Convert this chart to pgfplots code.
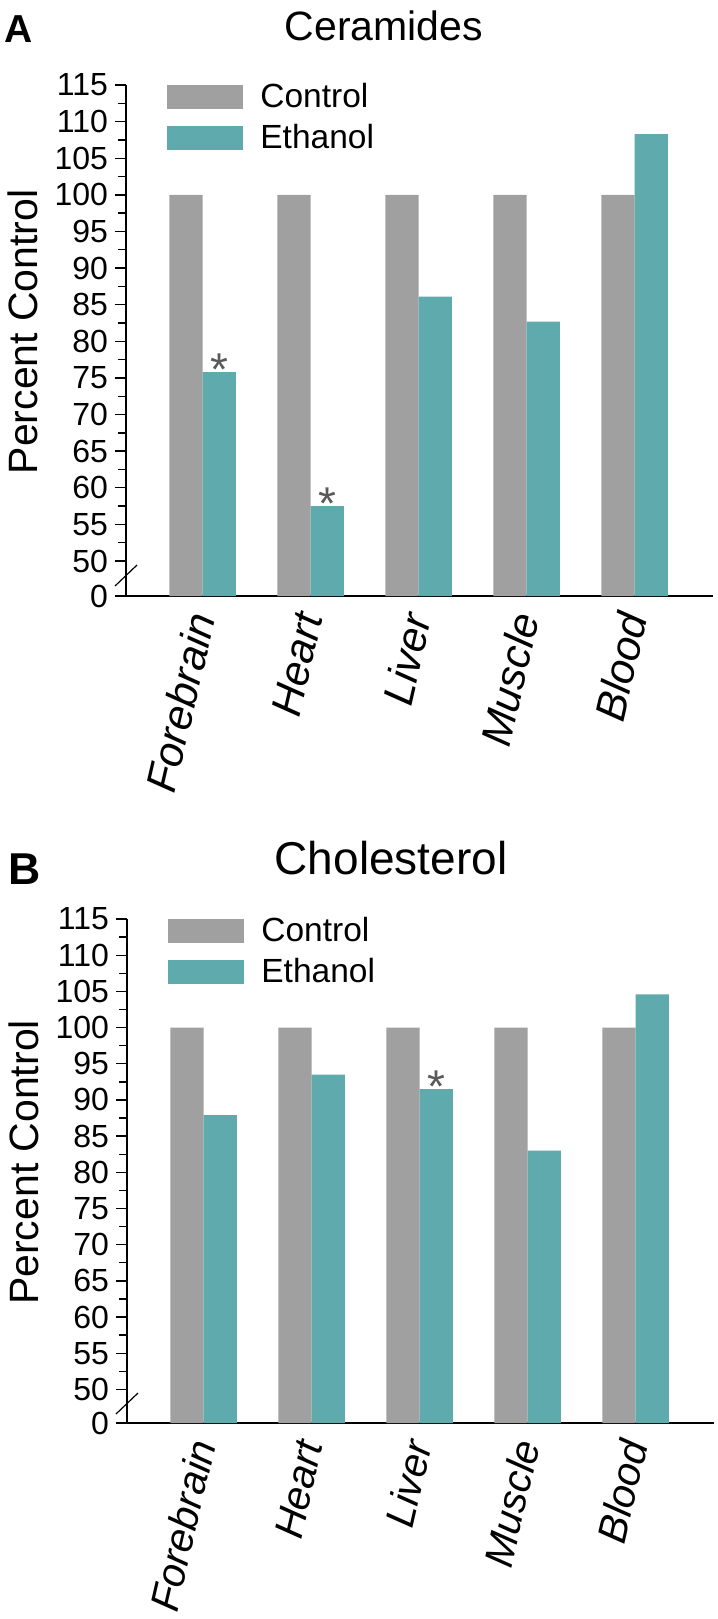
\documentclass[border=0pt]{standalone}
\usepackage{pgfplots}
\pgfplotsset{compat=1.18}
\usepackage{fontspec}
\setmainfont{Liberation Sans}
\definecolor{ctrl}{RGB}{160,160,160}
\definecolor{eth}{RGB}{94,170,172}
\definecolor{starc}{RGB}{90,90,90}

\pgfplotsset{
  panel/.style={
    scale only axis, width=293.5pt,
    xmin=-0.709, xmax=4.726, ymax=115,
    axis x line*=bottom, axis y line*=left,
    axis line style={line width=0.9pt, -},
    ybar, bar width=0.308,
    xtick={0,1,2,3,4},
    xticklabels={Forebrain,Heart,Liver,Muscle,Blood},
    x tick style={draw=none},
    xticklabel style={rotate=77, anchor=east, font=\fontsize{21.3}{21.3}\selectfont\itshape},
    minor ytick={52.5,57.5,62.5,67.5,72.5,77.5,82.5,87.5,92.5,97.5,102.5,107.5,112.5},
    tick align=outside,
    major tick length=5.5pt, minor tick length=4pt,
    y tick style={black, line width=0.7pt},
    yticklabel style={font=\fontsize{16}{16}\selectfont, xshift=0pt},
    /pgf/number format/assume math mode=true,
    ylabel={Percent Control},
    ylabel style={at={(axis description cs:-0.1516,0.517)}, anchor=base, font=\fontsize{20.5}{20.5}\selectfont},
    legend style={at={(axis description cs:0,1)}, anchor=north west, xshift=20.5pt, yshift=2pt,
      draw=none, fill=none, inner sep=0pt, outer sep=0pt, row sep=5pt,
      font=\fontsize{16.75}{16.75}\selectfont, nodes={inner ysep=1pt, inner xsep=8.7pt}},
    legend cell align=left,
    legend image code/.code={\fill[##1] (0pt,-6pt) rectangle (38pt,6pt);},
  },
  starplot/.style={ybar, bar shift=0.154, draw=none, fill=none, forget plot,
    nodes near coords, point meta=explicit symbolic,
    every node near coord/.append style={anchor=base, yshift=-6.7pt, font=\fontsize{23}{23}\selectfont, text=starc, inner sep=0pt}},
}

\begin{document}
\begin{tikzpicture}
\path[use as bounding box] (0,0) rectangle (359pt,-809.5pt);

% Panel A
\node[font=\fontsize{19.5}{19.5}\selectfont\bfseries] at (9.5pt,-14.5pt) {A};
\node[font=\fontsize{20.5}{20.5}\selectfont] at (192pt,-12.75pt) {Ceramides};
\begin{axis}[panel, name=A, at={(63pt,-298pt)}, anchor=south west, height=255.5pt,
  ymin=45.22,
  ytick={45.22,50,55,60,65,70,75,80,85,90,95,100,105,110,115},
  yticklabels={0,50,55,60,65,70,75,80,85,90,95,100,105,110,115}]
\addplot[fill=ctrl, draw=none, bar shift=-0.154] coordinates {(0,100) (1,100) (2,100) (3,100) (4,100)};
\addplot[fill=eth, draw=none, bar shift=0.154] coordinates {(0,75.8) (1,57.5) (2,86.1) (3,82.7) (4,108.3)};
\addplot[starplot] coordinates {(0,75.8) [*] (1,57.5) [*]};
\legend{Control,Ethanol}
\end{axis}
\draw[line width=0.6pt] ([shift={(-5.5pt,5pt)}]A.south west) -- ++(11pt,10.5pt);

% Panel B
\node[font=\fontsize{22.3}{22.3}\selectfont\bfseries] at (12.5pt,-434.5pt) {B};
\node[font=\fontsize{23}{23}\selectfont] at (195.5pt,-429.25pt) {Cholesterol};
\begin{axis}[panel, name=B, at={(63.5pt,-711.5pt)}, anchor=south west, height=252pt,
  ymin=45.36,
  xticklabel style={font=\fontsize{20.3}{20.3}\selectfont\itshape},
  ytick={45.36,50,55,60,65,70,75,80,85,90,95,100,105,110,115},
  yticklabels={0,50,55,60,65,70,75,80,85,90,95,100,105,110,115}]
\addplot[fill=ctrl, draw=none, bar shift=-0.154] coordinates {(0,100) (1,100) (2,100) (3,100) (4,100)};
\addplot[fill=eth, draw=none, bar shift=0.154] coordinates {(0,87.9) (1,93.5) (2,91.5) (3,83.0) (4,104.6)};
\addplot[starplot] coordinates {(2,91.5) [*]};
\legend{Control,Ethanol}
\end{axis}
\draw[line width=0.6pt] ([shift={(-5.5pt,4.5pt)}]B.south west) -- ++(11pt,10.5pt);
\end{tikzpicture}
\end{document}
